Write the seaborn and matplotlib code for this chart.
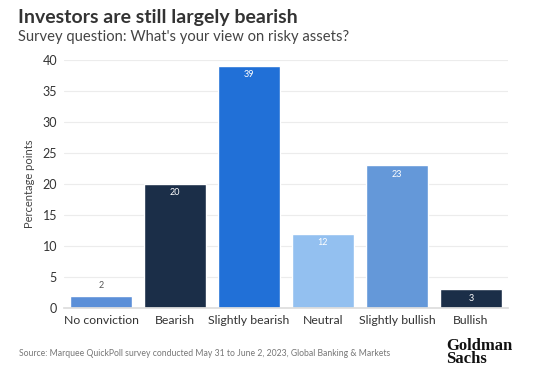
import matplotlib
matplotlib.use("Agg")
import matplotlib.pyplot as plt
import seaborn as sns
import pandas as pd

# data
categories = ["No conviction", "Bearish", "Slightly bearish", "Neutral", "Slightly bullish", "Bullish"]
values = [2, 20, 39, 12, 23, 3]
bar_colors = ["#5b8fd8", "#1b2e48", "#2170d7", "#93c0f0", "#6498d9", "#1b2e48"]
y_ticks = [0, 5, 10, 15, 20, 25, 30, 35, 40]

df = pd.DataFrame({"view": categories, "pp": values})

sns.set_theme(style="white")
plt.rcParams["font.family"] = ["Lato", "DejaVu Sans"]

fig = plt.figure(figsize=(5.4, 3.84), dpi=100)
ax = fig.add_axes([0.1185, 0.198, 0.822, 0.646])

sns.barplot(data=df, x="view", y="pp", hue="view", palette=bar_colors,
            legend=False, width=0.84, saturation=1, ax=ax)

ax.set_ylim(0, 40)
ax.set_xlim(-0.5, 5.5)
ax.set_yticks(y_ticks)
ax.yaxis.grid(True, color="#ececec", linewidth=0.8)
ax.set_axisbelow(True)
for s in ["top", "right", "left"]:
    ax.spines[s].set_visible(False)
ax.spines["bottom"].set_color("#dddddd")
ax.tick_params(axis="x", length=3, color="#dddddd", labelsize=8.8, labelcolor="#333333", pad=2)
ax.tick_params(axis="y", length=3, color="#dddddd", labelsize=9, labelcolor="#333333", pad=2)
ax.set_xlabel("")
ax.set_ylabel("Percentage points", fontsize=8, color="#444444", labelpad=5)

# value labels
for i, v in enumerate(values):
    if v < 5:
        if v == 2:
            ax.text(i, v + 0.9, str(v), ha="center", va="bottom", fontsize=6.5, color="#555555")
        else:
            ax.text(i, v / 2, str(v), ha="center", va="center", fontsize=6.5, color="white")
    else:
        ax.text(i, v - 0.7, str(v), ha="center", va="top", fontsize=6.5, color="white")

fig.text(0.033, 0.955, "Investors are still largely bearish", fontsize=14,
         fontweight="bold", color="#333333", va="center")
fig.text(0.033, 0.903, "Survey question: What's your view on risky assets?", fontsize=10.6,
         color="#444444", va="center")
fig.text(0.035, 0.08, "Source: Marquee QuickPoll survey conducted May 31 to June 2, 2023, Global Banking & Markets",
         fontsize=6.2, color="#777777", va="center")
fig.text(0.826, 0.082, "Goldman\nSachs", fontsize=12, fontweight="bold", color="#111111",
         family=["Liberation Serif", "DejaVu Serif"], va="center", ha="left", linespacing=0.8)

fig.savefig("out.png", dpi=100)
